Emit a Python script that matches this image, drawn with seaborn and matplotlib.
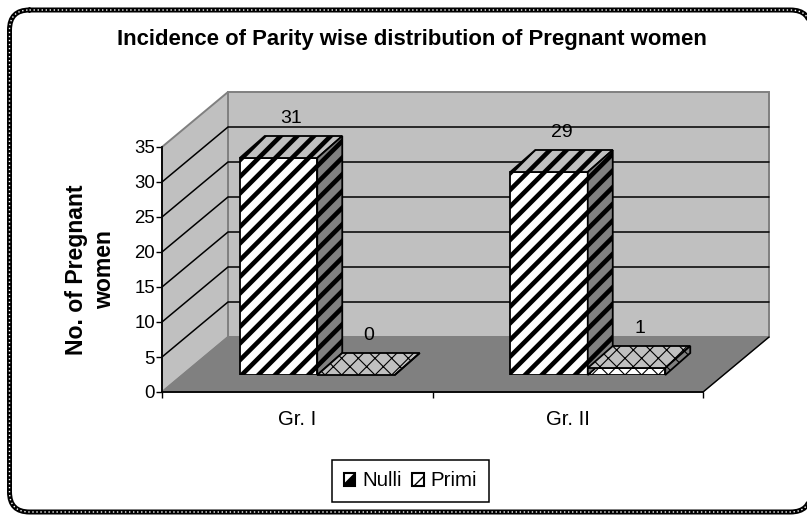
import matplotlib

matplotlib.use("Agg")
import pandas as pd
import seaborn as sns
from matplotlib import pyplot as plt
from matplotlib.patches import FancyBboxPatch, Patch, Polygon

groups = ["Gr. I", "Gr. II"]
parity = ["Nulli", "Primi"]
nulli_counts = [31, 29]
primi_counts = [0, 1]
y_ticks = [0, 5, 10, 15, 20, 25, 30, 35]

W, H = 807, 515
DPI = 100
LIGHT = "#c0c0c0"
MID = "#808080"
HATCHES = {"Nulli": "//", "Primi": "xx"}
HATCH_LW = {"Nulli": 3.3, "Primi": 0.8}

sns.set_theme(style="ticks")
plt.rcParams["font.family"] = ["Liberation Sans", "DejaVu Sans"]

df = pd.DataFrame(
    {
        "group": groups * 2,
        "parity": [parity[0]] * 2 + [parity[1]] * 2,
        "count": nulli_counts + primi_counts,
    }
)

fig = plt.figure(figsize=(W / DPI, H / DPI), dpi=DPI, facecolor="white")

# rounded dotted outer border, its right side falls just outside the picture
# flattened to a polyline because agg bends clipped curves
frame = fig.add_axes([0, 0, 1, 1], zorder=0)
frame.set(xlim=(0, W), ylim=(H, 0))
frame.axis("off")
outline = FancyBboxPatch((9.5, 10), 801, 502, boxstyle="round,pad=0,rounding_size=20")
outline = outline.get_path().to_polygons(closed_only=False)[0]
frame.plot(outline[:, 0], outline[:, 1], color="black", lw=3.6)
frame.plot(outline[:, 0], outline[:, 1], color="white", lw=1.0, ls=(0, (1, 1.9)))
frame.set(xlim=(0, W), ylim=(H, 0))

# front plane of the chart, everything 3D is measured from it
left, right, bottom, top = 162, 703, 392, 147
rect = [left / W, 1 - bottom / H, (right - left) / W, (bottom - top) / H]
ax = fig.add_axes(rect, zorder=1)
ax.patch.set_visible(False)
ax.set(xlim=(-0.5, 1.5), ylim=(0, 35))
px_x = 2 / (right - left)
px_y = 35 / (bottom - top)

wall_dx, wall_dy = 66 * px_x, 55 * px_y
x0, x1, y0, y1 = -0.5, 1.5, 0, 35
ax.add_patch(Polygon(
    [(x0 + wall_dx, y0 + wall_dy), (x1 + wall_dx, y0 + wall_dy), (x1 + wall_dx, y1 + wall_dy), (x0 + wall_dx, y1 + wall_dy)],
    fc=LIGHT, ec=MID, lw=1.4, clip_on=False, zorder=1,
))
ax.add_patch(Polygon(
    [(x0, y0), (x0 + wall_dx, y0 + wall_dy), (x0 + wall_dx, y1 + wall_dy), (x0, y1)],
    fc=LIGHT, ec=MID, lw=1.4, clip_on=False, zorder=1,
))
ax.add_patch(Polygon(
    [(x0, y0), (x1, y0), (x1 + wall_dx, y0 + wall_dy), (x0 + wall_dx, y0 + wall_dy)],
    fc=MID, ec=MID, lw=1, clip_on=False, zorder=1,
))
ax.plot([x1, x1 + wall_dx], [y0, y0 + wall_dy], color="black", lw=1, clip_on=False, zorder=2)
for tick in y_ticks[1:-1]:
    ax.plot(
        [x0, x0 + wall_dx, x1 + wall_dx],
        [tick, tick + wall_dy, tick + wall_dy],
        color="black", lw=1.1, clip_on=False, zorder=2,
    )

ax.set_xticks([-0.5, 0.5, 1.5], labels=[])
ax.set_xticks([0, 1], labels=groups, minor=True)
ax.tick_params(axis="x", which="minor", length=0, labelsize=14.6, pad=13, colors="black")
ax.tick_params(axis="x", which="major", length=4, width=1, color="black")
ax.set_yticks(y_ticks)
ax.tick_params(axis="y", length=4, width=1, labelsize=13.4, pad=1, colors="black", color="black")
ax.set_ylabel("No. of Pregnant\nwomen", fontsize=16.6, fontweight="bold", color="black", linespacing=1.3)
ax.yaxis.set_label_coords(-0.084, 0.498)
for side in ["top", "right"]:
    ax.spines[side].set_visible(False)
for side in ["left", "bottom"]:
    ax.spines[side].set_color("black")
    ax.spines[side].set_linewidth(1.3)

# bars stand a little behind the front plane
ax_bars = fig.add_axes(
    [(left + 20) / W, 1 - (bottom - 17) / H, (right - left) / W, (bottom - top) / H], zorder=2,
)
ax_bars.patch.set_visible(False)
sns.barplot(
    data=df, x="group", y="count", hue="parity", order=groups, hue_order=parity,
    palette=["white", "white"], edgecolor="black", linewidth=1.3, width=0.573, gap=0,
    errorbar=None, legend=False, ax=ax_bars,
)
ax_bars.set(xlim=(-0.5, 1.5), ylim=(0, 35))
ax_bars.axis("off")

depth_x, depth_y = 25 * px_x, 22 * px_y
for name, container in zip(parity, ax_bars.containers):
    for bar in container:
        bx0, bx1 = bar.get_x(), bar.get_x() + bar.get_width()
        h = bar.get_height()
        faces = [
            ([(bx0, h), (bx1, h), (bx1 + depth_x, h + depth_y), (bx0 + depth_x, h + depth_y)], LIGHT),
            ([(bx1, 0), (bx1 + depth_x, depth_y), (bx1 + depth_x, h + depth_y), (bx1, h)], MID),
        ]
        bar.set_hatch(HATCHES[name])
        bar.set_hatch_linewidth(HATCH_LW[name])
        for pts, fc in faces:
            face = Polygon(pts, fc=fc, ec="black", lw=1.3, hatch=HATCHES[name], clip_on=False, zorder=bar.get_zorder())
            face.set_hatch_linewidth(HATCH_LW[name])
            ax_bars.add_patch(face)
        ax_bars.annotate(
            f"{h:.0f}", ((bx0 + bx1) / 2, h), xytext=(13, 39.5), textcoords="offset pixels",
            ha="center", va="center", fontsize=14, color="black", annotation_clip=False, zorder=6,
        )

fig.text(412 / W, 1 - 39 / H, "Incidence of Parity wise distribution of Pregnant women",
         ha="center", va="center", fontsize=15.95, fontweight="bold", color="black")

handles = [Patch(fc="white", ec="black", lw=1.5, hatch="/") for name in parity]
leg = fig.legend(
    handles, parity, loc="center", bbox_to_anchor=(410.5 / W, 1 - 481 / H), ncol=2, fontsize=14.8,
    frameon=True, fancybox=False, edgecolor="black", framealpha=1, handlelength=0.57, handleheight=0.57,
    handletextpad=0.33, columnspacing=0.52, borderpad=0.55, labelcolor="black",
)
leg.get_frame().set_linewidth(1.1)
for handle, hatch_lw in zip(leg.get_patches(), [6.0, 1.0]):
    handle.set_hatch_linewidth(hatch_lw)

fig.savefig("out.png", dpi=DPI)
